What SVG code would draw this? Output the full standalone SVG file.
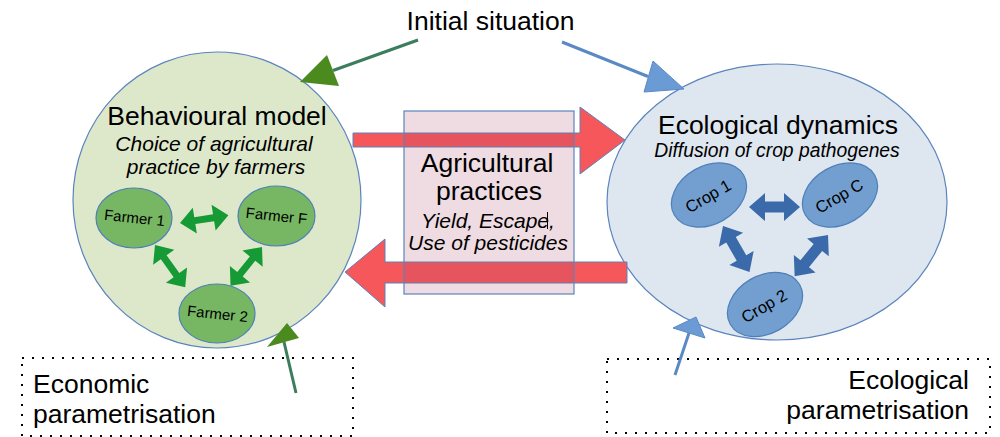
<svg xmlns="http://www.w3.org/2000/svg" width="1000" height="437" viewBox="0 0 1000 437">
  <defs>
    <style>
      text { font-family: "Liberation Sans", Arial, sans-serif; fill: #000; }
      .title { font-size: 26.5px; }
      .sub { font-size: 21px; font-style: italic; }
      .small { font-size: 15px; }
      .cropt { font-size: 16.5px; }
      .mid { text-anchor: middle; }
      .end { text-anchor: end; }
      .eco { fill: #dde8cb; stroke: #5b84bd; stroke-width: 1.2; }
      .env { fill: #dee6ef; stroke: #5b84bd; stroke-width: 1.2; }
      .farmer { fill: #77b763; stroke: #4d7fba; stroke-width: 1.2; }
      .crop { fill: #729fcf; stroke: #4d7fba; stroke-width: 1.2; }
      .garrow { fill: #159a35; }
      .barrow { fill: #3a6aaa; }
      .flow { fill: #f5575a; stroke: #5b84bd; stroke-width: 1; }
      .frame { fill: none; stroke: #000; stroke-width: 2; stroke-dasharray: 2 8; }
    </style>
  </defs>

  <!-- parameter frames -->
  <g id="economic-parametrisation">
    <rect class="frame" x="22" y="358" width="331" height="78"/>
    <text class="title" x="33" y="393">Economic</text>
    <text class="title" x="33" y="423">parametrisation</text>
  </g>
  <g id="ecological-parametrisation">
    <rect class="frame" x="607" y="359" width="383" height="74"/>
    <text class="title end" x="969" y="389">Ecological</text>
    <text class="title end" x="969" y="419">parametrisation</text>
  </g>

  <!-- behavioural model -->
  <g id="behavioural-model">
    <ellipse class="eco" cx="217" cy="200" rx="144" ry="148"/>
    <text class="title mid" x="217" y="125">Behavioural model</text>
    <text class="sub mid" x="214" y="151">Choice of agricultural</text>
    <text class="sub mid" x="216" y="174">practice by farmers</text>
  </g>

  <!-- ecological dynamics -->
  <g id="ecological-dynamics">
    <ellipse class="env" cx="777" cy="202" rx="170" ry="138"/>
    <text class="title mid" x="778" y="134">Ecological dynamics</text>
    <text class="sub mid" x="777" y="157" style="font-size:19.3px">Diffusion of crop pathogenes</text>
  </g>

  <g id="farmer-1">
    <ellipse class="farmer" cx="134" cy="218" rx="38" ry="30"/>
    <text class="small mid" transform="translate(134,223) rotate(6)">Farmer 1</text>
  </g>
  <g id="farmer-f">
    <ellipse class="farmer" cx="276.5" cy="216" rx="38.5" ry="30"/>
    <text class="small mid" transform="translate(276,221) rotate(6)">Farmer F</text>
  </g>
  <g id="farmer-2">
    <ellipse class="farmer" cx="217" cy="313.5" rx="38" ry="29.5"/>
    <text class="small mid" transform="translate(217,319) rotate(6)">Farmer 2</text>
  </g>

  <g id="crop-1">
    <ellipse class="crop" cx="709" cy="195" rx="40" ry="29" transform="rotate(-30 709 195)"/>
    <text class="cropt mid" transform="translate(711,201) rotate(-30)">Crop 1</text>
  </g>
  <g id="crop-c">
    <ellipse class="crop" cx="840" cy="195" rx="40" ry="29" transform="rotate(-30 840 195)"/>
    <text class="cropt mid" transform="translate(842,201) rotate(-30)">Crop C</text>
  </g>
  <g id="crop-2">
    <ellipse class="crop" cx="765" cy="304.5" rx="40" ry="29" transform="rotate(-30 765 304.5)"/>
    <text class="cropt mid" transform="translate(767,311) rotate(-30)">Crop 2</text>
  </g>

  <!-- connectors -->
  <g id="connectors">
    <!-- interactions between farmers -->
    <polygon class="garrow" transform="translate(180,223) rotate(-9)" points="0,0 15,-13 15,-3.5 34,-3.5 34,-13 49,0 34,13 34,3.5 15,3.5 15,13"/>
    <polygon class="garrow" transform="translate(155,245) rotate(54.5)" points="0,0 15,-13 15,-3.5 37,-3.5 37,-13 52,0 37,13 37,3.5 15,3.5 15,13"/>
    <polygon class="garrow" transform="translate(262,247) rotate(129)" points="0,0 15,-13 15,-3.5 35,-3.5 35,-13 50,0 35,13 35,3.5 15,3.5 15,13"/>

    <!-- interactions between crops -->
    <polygon class="barrow" transform="translate(749,207)" points="0,0 16,-14 16,-5.5 35,-5.5 35,-14 51,0 35,14 35,5.5 16,5.5 16,14"/>
    <polygon class="barrow" transform="translate(723,226) rotate(60)" points="0,0 16,-14 16,-5.5 37,-5.5 37,-14 53,0 37,14 37,5.5 16,5.5 16,14"/>
    <polygon class="barrow" transform="translate(828,235) rotate(129)" points="0,0 16,-14 16,-5.5 37,-5.5 37,-14 53,0 37,14 37,5.5 16,5.5 16,14"/>

    <!-- flows between the two models -->
    <polygon class="flow" points="353,133 580,133 580,107 625,140 580,174 580,147 353,147"/>
    <polygon class="flow" points="627,262 385,262 385,239 345,272 385,307 385,283 627,283"/>

    <!-- initial situation -->
    <line x1="418" y1="40" x2="333" y2="70.5" stroke="#3b7d5c" stroke-width="3"/>
    <polygon points="300,82 327,55 339,86" fill="#4a8a1e"/>
    <line x1="562" y1="42" x2="648" y2="76.5" stroke="#5a8ac6" stroke-width="3"/>
    <polygon points="684,89 653,61 644,92" fill="#6b9bd4" stroke="#5a8ac6" stroke-width="1"/>

    <!-- parametrisation -->
    <line x1="296" y1="393" x2="284" y2="342" stroke="#3b7d5c" stroke-width="3"/>
    <polygon points="287,323 267,347 299,338" fill="#4a8a1e"/>
    <line x1="675" y1="375" x2="689" y2="333" stroke="#5a8ac6" stroke-width="3"/>
    <polygon points="696,317 673,328 705,338" fill="#6b9bd4" stroke="#5a8ac6" stroke-width="1"/>
  </g>

  <!-- agricultural practices -->
  <g id="agricultural-practices">
    <rect x="404" y="111" width="170" height="183" fill="#a8506e" fill-opacity="0.2" stroke="#5b84bd" stroke-width="1.2"/>
    <text class="title mid" x="487" y="172">Agricultural</text>
    <text class="title mid" x="489" y="200">practices</text>
    <text class="sub" x="421" y="228">Yield, Escape,</text>
    <line x1="547.5" y1="212" x2="547.5" y2="229" stroke="#000" stroke-width="1"/>
    <text class="sub mid" x="488" y="250">Use of pesticides</text>
  </g>

  <g id="initial-situation">
    <text class="title mid" x="490.5" y="30">Initial situation</text>
  </g>
</svg>
